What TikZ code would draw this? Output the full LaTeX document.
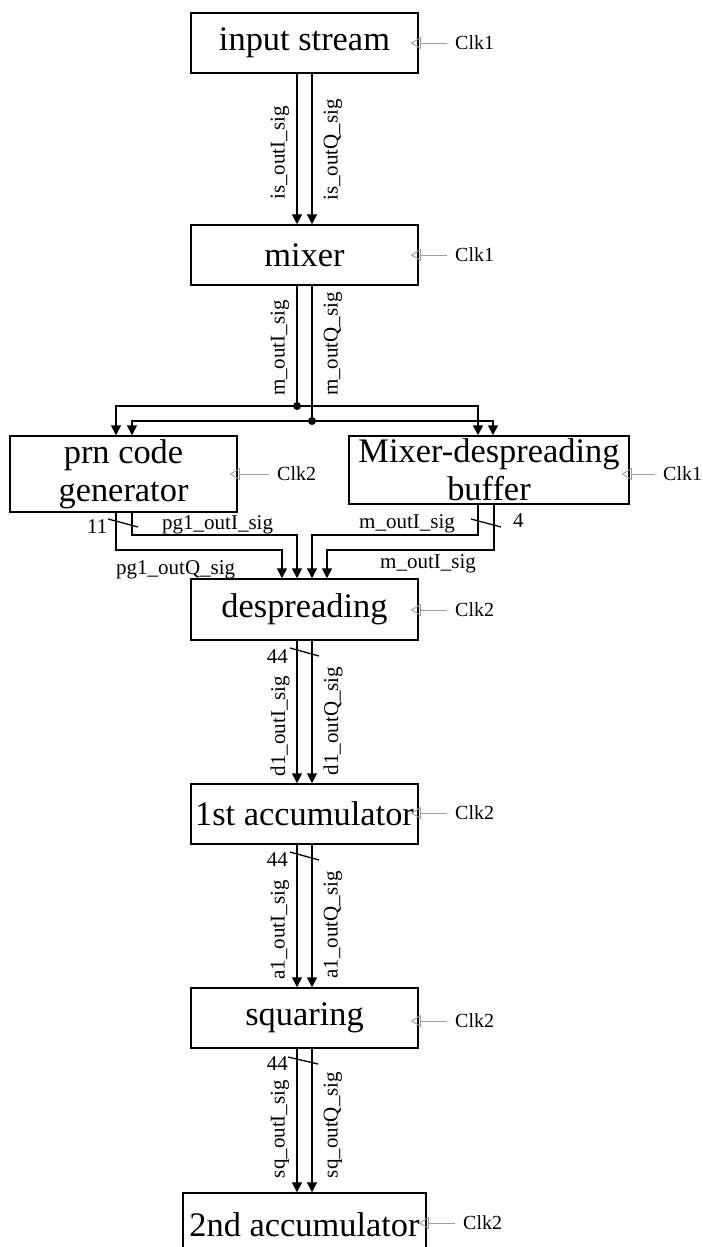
\documentclass[tikz,border=0pt]{standalone}
\usepackage{fontspec}
\setmainfont{Liberation Serif}
\usetikzlibrary{arrows.meta,calc}
\begin{document}
\begin{tikzpicture}[x=1pt,y=-1pt,
 blk/.style={draw,line width=1.5pt,inner sep=0pt,font=\fontsize{34.4}{38}\selectfont,align=center},
 wire/.style={line width=1.6pt},
 sig/.style={wire,-{Triangle[length=10pt,width=10pt]}},
 lbl/.style={inner sep=0pt,font=\fontsize{21}{23}\selectfont},
 vlbl/.style={lbl,rotate=90},
 ck/.style={inner sep=0pt,font=\fontsize{20}{22}\selectfont,anchor=west},
 clk/.style={draw=gray!75,line width=0.9pt,-{Triangle[open,length=10pt,width=12pt,line width=0.9pt]},shorten >=-8pt,shorten <=8pt},
 bus/.style={line width=1.3pt},
 jdot/.style={circle,fill,inner sep=0pt,minimum size=8pt}]
\clip (0,0) rectangle (703,1247);
% boxes
\node[blk,minimum width=227pt,minimum height=60pt] (is) at (304.5,43) {input stream};
\node[blk,minimum width=227pt,minimum height=60pt] (mix) at (304.5,255) {mixer};
\node[blk,minimum width=227pt,minimum height=76pt] (prn) at (123.5,474) {prn code\\generator};
\node[blk,minimum width=280pt,minimum height=68pt] (buf) at (489,470) {Mixer-despreading\\buffer};
\node[blk,minimum width=227pt,minimum height=61pt] (desp) at (304.5,609.5) {despreading};
\node[blk,minimum width=227pt,minimum height=60pt] (acc1) at (304.5,814) {1st accumulator};
\node[blk,minimum width=227pt,minimum height=60pt] (sq) at (304.5,1018) {squaring};
\node[blk,minimum width=243pt,minimum height=64pt] (acc2) at (304.5,1225) {2nd accumulator};
% clocks
\node[ck] (ckis) at (455,43) {Clk1};
\node[ck] (ckmix) at (455,255) {Clk1};
\node[ck] (ckprn) at (277,474) {Clk2};
\node[ck] (ckbuf) at (663,474) {Clk1};
\node[ck] (ckdesp) at (455,610) {Clk2};
\node[ck] (ckacc1) at (455,813) {Clk2};
\node[ck] (cksq) at (455,1021) {Clk2};
\node[ck] (ckacc2) at (463,1223) {Clk2};
\draw[clk] (ckis.west) -- (ckis.west -| is.east);
\draw[clk] (ckmix.west) -- (ckmix.west -| mix.east);
\draw[clk] (ckprn.west) -- (ckprn.west -| prn.east);
\draw[clk] (ckbuf.west) -- (ckbuf.west -| buf.east);
\draw[clk] (ckdesp.west) -- (ckdesp.west -| desp.east);
\draw[clk] (ckacc1.west) -- (ckacc1.west -| acc1.east);
\draw[clk] (cksq.west) -- (cksq.west -| sq.east);
\draw[clk] (ckacc2.west) -- (ckacc2.west -| acc2.east);
% input stream -> mixer
\draw[sig] ($(is.south)+(-7.5,0)$) -- ($(mix.north)+(-7.5,0)$);
\draw[sig] ($(is.south)+(7.5,0)$) -- ($(mix.north)+(7.5,0)$);
\node[vlbl] (l1) at (280,153) {is\_outI\_sig};
\node[vlbl] (l2) at (333,150) {is\_outQ\_sig};
% mixer -> junctions
\coordinate (jI) at (297,406);
\coordinate (jQ) at (312,421);
\draw[wire] ($(mix.south)+(-7.5,0)$) -- (jI);
\draw[wire] ($(mix.south)+(7.5,0)$) -- (jQ);
\node[jdot] (dI) at (jI) {};
\node[jdot] (dQ) at (jQ) {};
\node[vlbl] (l3) at (280,348) {m\_outI\_sig};
\node[vlbl] (l4) at (333,344) {m\_outQ\_sig};
\draw[sig] (jI) -| ($(prn.north)+(-7.5,0)$);
\draw[sig] (jI) -| ($(buf.north)+(-11,0)$);
\draw[sig] (jQ) -| ($(prn.north)+(8.5,0)$);
\draw[sig] (jQ) -| ($(buf.north)+(4,0)$);
% prn / buffer -> despreading
\draw[sig] ($(prn.south)+(8.5,0)$) -- ++(0,22) -| ($(desp.north)+(-7.5,0)$);
\draw[sig] ($(prn.south)+(-7.5,0)$) -- ++(0,37) -| ($(desp.north)+(-22.5,0)$);
\draw[sig] ($(buf.south)+(-11,0)$) -- ++(0,30) -| ($(desp.north)+(7.5,0)$);
\draw[sig] ($(buf.south)+(5,0)$) -- ++(0,45) -| ($(desp.north)+(22.5,0)$);
\coordinate (s1a) at (108,519); \coordinate (s1b) at (138,527);
\draw[bus] (s1a) -- (s1b);
\coordinate (s2a) at (471,519); \coordinate (s2b) at (501,527);
\draw[bus] (s2a) -- (s2b);
\node[lbl,anchor=base west] (n11) at (87,533) {11};
\node[lbl,anchor=base west] (n4) at (513,527) {4};
\node[lbl,anchor=base west] (l5) at (162,529) {pg1\_outI\_sig};
\node[lbl,anchor=base west] (l6) at (116,574) {pg1\_outQ\_sig};
\node[lbl,anchor=base west] (l7) at (359,528) {m\_outI\_sig};
\node[lbl,anchor=base west] (l8) at (380,568) {m\_outI\_sig};
% despreading -> acc1
\draw[sig] ($(desp.south)+(-7.5,0)$) -- ($(acc1.north)+(-7.5,0)$);
\draw[sig] ($(desp.south)+(7.5,0)$) -- ($(acc1.north)+(7.5,0)$);
\coordinate (s3a) at (290,648); \coordinate (s3b) at (319,656);
\draw[bus] (s3a) -- (s3b);
\node[lbl,anchor=base east] (n44a) at (288,663) {44};
\node[vlbl] (l9) at (280,726) {d1\_outI\_sig};
\node[vlbl] (l10) at (333,721) {d1\_outQ\_sig};
% acc1 -> squaring
\draw[sig] ($(acc1.south)+(-7.5,0)$) -- ($(sq.north)+(-7.5,0)$);
\draw[sig] ($(acc1.south)+(7.5,0)$) -- ($(sq.north)+(7.5,0)$);
\coordinate (s4a) at (290,852); \coordinate (s4b) at (319,860);
\draw[bus] (s4a) -- (s4b);
\node[lbl,anchor=base east] (n44b) at (288,866) {44};
\node[vlbl] (l11) at (280,930) {a1\_outI\_sig};
\node[vlbl] (l12) at (333,925) {a1\_outQ\_sig};
% squaring -> acc2
\draw[sig] ($(sq.south)+(-7.5,0)$) -- ($(acc2.north)+(-7.5,0)$);
\draw[sig] ($(sq.south)+(7.5,0)$) -- ($(acc2.north)+(7.5,0)$);
\coordinate (s5a) at (288,1057); \coordinate (s5b) at (318,1064);
\draw[bus] (s5a) -- (s5b);
\node[lbl,anchor=base east] (n44c) at (288,1070) {44};
\node[vlbl] (l13) at (280,1129) {sq\_outI\_sig};
\node[vlbl] (l14) at (333,1125) {sq\_outQ\_sig};
\end{tikzpicture}
\end{document}
